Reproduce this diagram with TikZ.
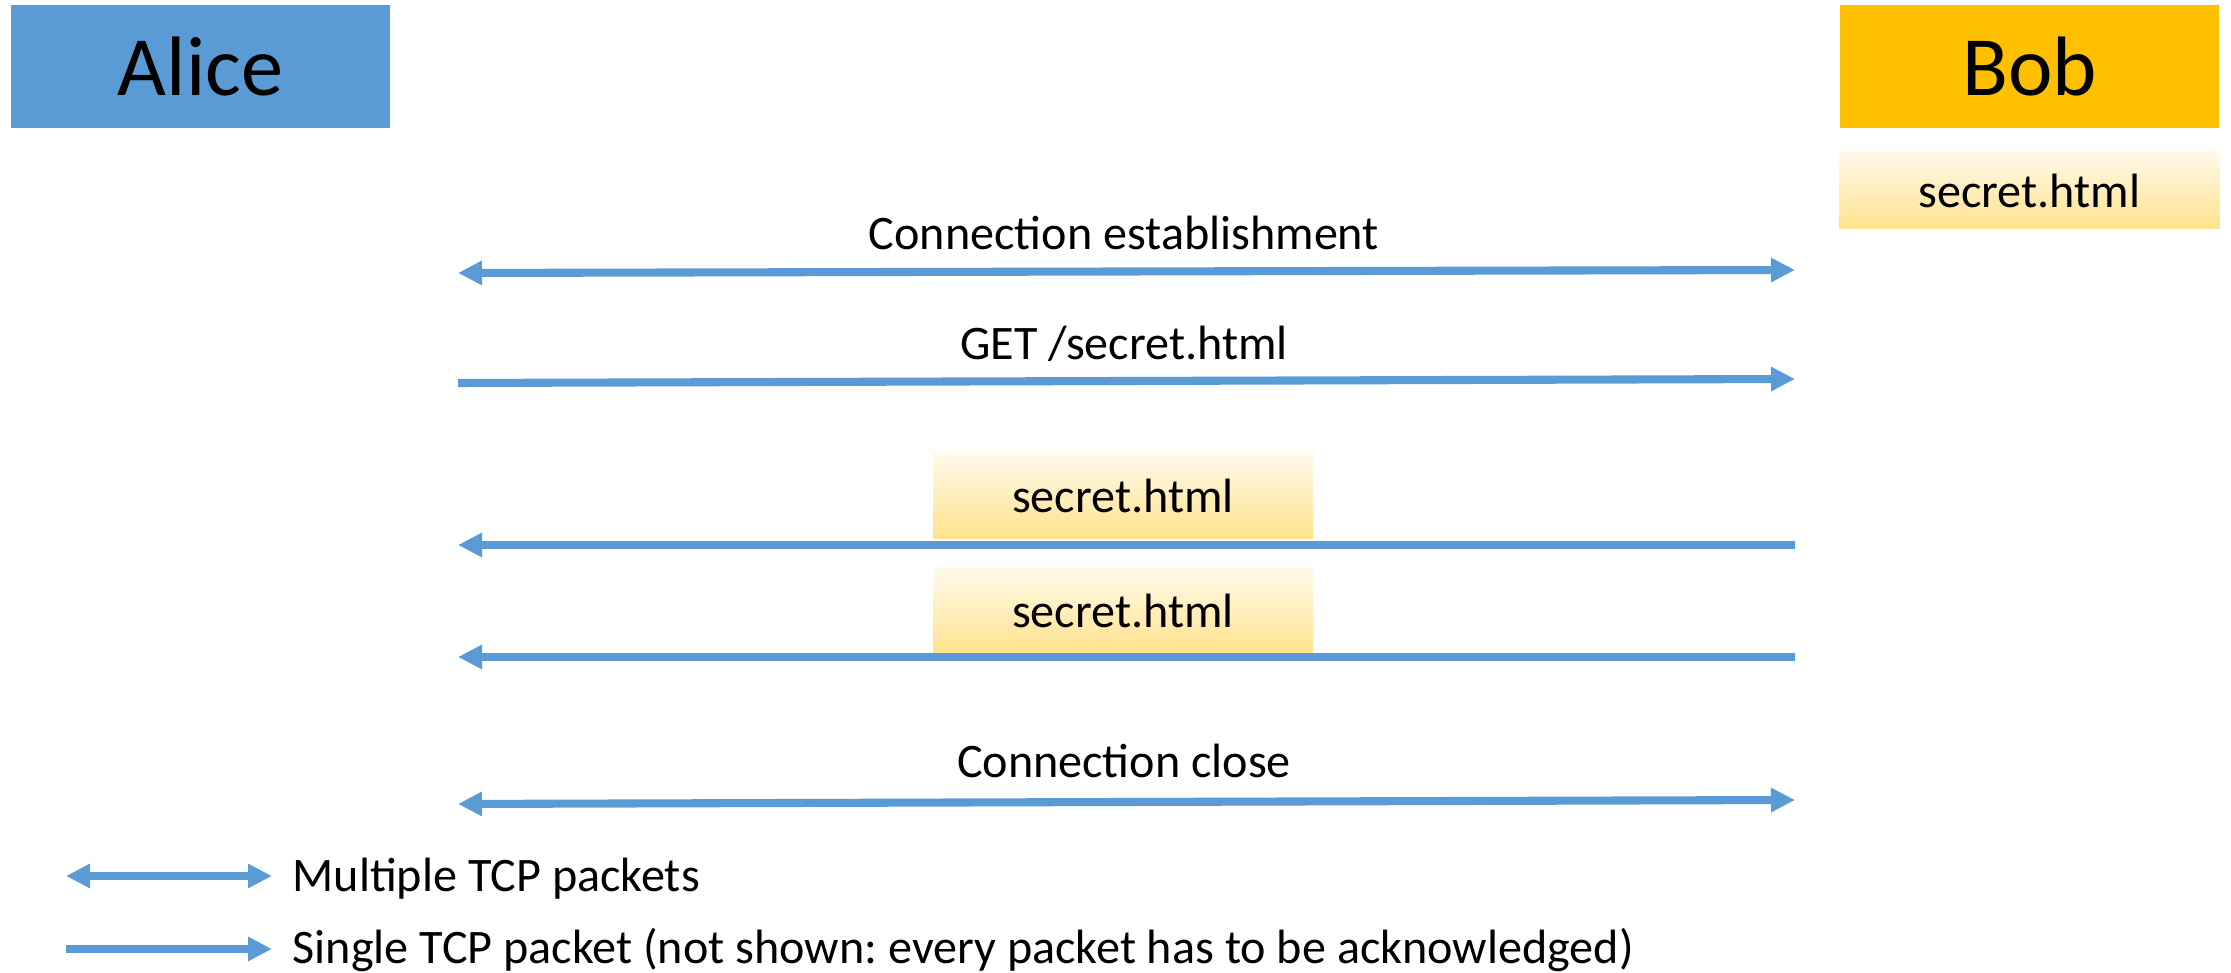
\documentclass[tikz,border=0pt]{standalone}
\usepackage{fontspec}
\setmainfont{Carlito}
\usetikzlibrary{arrows.meta}
\definecolor{linkblue}{HTML}{5B9BD5}
\definecolor{bobgold}{HTML}{FFC000}
\definecolor{filetop}{HTML}{FFFAEC}
\definecolor{filebot}{HTML}{FFE28C}
\tikzset{
  party/.style={minimum width=37.9mm, minimum height=12.3mm, inner sep=0pt,
    font=\fontsize{24}{28}\selectfont},
  file/.style={minimum width=38mm, minimum height=8.6mm, inner sep=0pt,
    top color=filetop, bottom color=filebot, font=\fontsize{13.7}{16}\selectfont},
  msg/.style={draw=linkblue, line width=2.3pt},
  msgtext/.style={inner sep=0pt, font=\fontsize{13.7}{16}\selectfont},
}
\frenchspacing

\begin{document}
\begin{tikzpicture}[x=0.1mm, y=-0.1mm, >={Triangle[length=2.4mm,width=2.3mm]}]
      \useasboundingbox (0,0) rectangle (2231,973);
      % the two parties
      \node[party, fill=linkblue] (alice) at (200.5,66.5) {Alice};
      \node[party, fill=bobgold] (bob) at (2029.5,66.5) {Bob};
      \node[file, minimum height=7.7mm] (bobfile) at (2029.5,190.5) {secret.html};
      % ends of the messages
      \coordinate (estL) at (458,273);   \coordinate (estR) at (1795,270);
      \coordinate (getL) at (458,383);   \coordinate (getR) at (1795,379);
      \coordinate (dataL) at (458,545);  \coordinate (dataR) at (1795,545);
      \coordinate (dtbL) at (458,657);   \coordinate (dtbR) at (1795,657);
      \coordinate (closeL) at (458,804); \coordinate (closeR) at (1795,800);
      % messages
      \draw[msg,<->] (estL) -- (estR);
      \node[msgtext] (esttext) at (1124,233) {Connection establishment};
      \draw[msg,->] (getL) -- (getR);
      \node[msgtext] (gettext) at (1124,344) {GET /secret.html};
      \node[file] (filea) at (1123,496) {secret.html};
      \draw[msg,->] (dataR) -- (dataL);
      \node[file] (fileb) at (1123,610.5) {secret.html};
      \draw[msg,->] (dtbR) -- (dtbL);
      \draw[msg,<->] (closeL) -- (closeR);
      \node[msgtext] (closetext) at (1124,761) {Connection close};
      % legend
      \coordinate (multL) at (66,876);   \coordinate (multR) at (272,876);
      \coordinate (singL) at (66,949);   \coordinate (singR) at (272,949);
      \draw[msg,<->] (multL) -- (multR);
      \node[msgtext, anchor=west] (multtext) at (292,879) {Multiple TCP packets};
      \draw[msg,->] (singL) -- (singR);
      \node[msgtext, anchor=west] (singtext) at (292,950) {Single TCP packet (not shown: every packet has to be acknowledged)};
\end{tikzpicture}
\end{document}
